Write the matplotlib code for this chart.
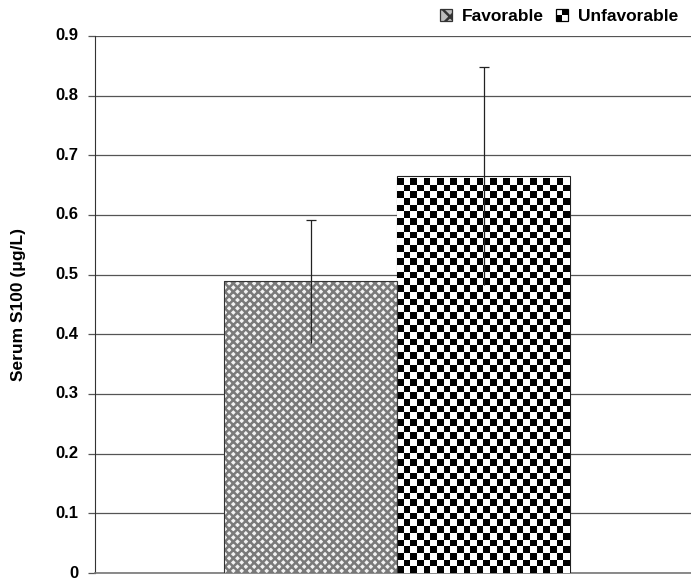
import numpy as np
import matplotlib
matplotlib.use('Agg')
import matplotlib.pyplot as plt
from matplotlib.patches import Rectangle, Patch
from matplotlib.legend_handler import HandlerBase

groups = ['Favorable', 'Unfavorable']
means = [0.49, 0.665]
err_low = [0.105, 0.183]
err_high = [0.102, 0.183]
yticks = [0, 0.1, 0.2, 0.3, 0.4, 0.5, 0.6, 0.7, 0.8, 0.9]

plt.rcParams['font.family'] = ['Liberation Sans', 'DejaVu Sans']
plt.rcParams['font.weight'] = 'bold'
plt.rcParams['hatch.linewidth'] = 1.8

fig = plt.figure(figsize=(6.91, 5.81), dpi=100)
ax = fig.add_axes([95 / 691, 8 / 581, 596 / 691, 537 / 581])

width = 0.29
xs = [-width / 2, width / 2]

# favorable: gray woven look via hatch
bars = ax.bar(xs[0], means[0], width=width, facecolor='#f2f2f2',
              edgecolor='#7a7a7a', hatch='xxxx', linewidth=0, zorder=3)
ax.bar(xs[0], means[0], width=width, facecolor='none', edgecolor='#333333',
       linewidth=0.8, zorder=4)

# unfavorable: checkerboard clipped to bar
bars2 = ax.bar(xs[1], means[1], width=width, facecolor='white',
               edgecolor='#222222', linewidth=0.8, zorder=3)
unf_bar = bars2[0]
sq = 0.0112
nx = 26
ny = int(round(means[1] / sq))
checks = (np.indices((ny, nx)).sum(axis=0) % 2).astype(float)
x0 = unf_bar.get_x()
im = ax.imshow(checks, cmap='gray', vmin=0, vmax=1, interpolation='nearest',
               extent=[x0, x0 + width, 0, ny * sq], origin='lower',
               aspect='auto', zorder=3.5)
im.set_clip_path(unf_bar)

for i in range(2):
    eb = ax.errorbar(xs[i], means[i], yerr=[[err_low[i]], [err_high[i]]],
                     fmt='none', ecolor='#222222', elinewidth=0.9,
                     capsize=3.3, capthick=0.9, zorder=5)
    eb[1][0].set_visible(False)

ax.set_xlim(-0.507, 0.493)
ax.set_ylim(0, 0.9)
ax.set_yticks(yticks)
ax.set_yticklabels(['0'] + ['%.1f' % v for v in yticks[1:]], fontsize=12,
                   fontweight='bold')
for lbl in ax.get_yticklabels():
    lbl.set_va('center')
ax.set_xticks([])
ax.yaxis.grid(True, color='#555555', linewidth=0.9, zorder=0)
ax.set_axisbelow(True)
for s in ['top', 'right']:
    ax.spines[s].set_visible(False)
ax.spines['left'].set_color('#333333')
ax.spines['bottom'].set_color('#777777')
ax.spines['bottom'].set_linewidth(1.2)
ax.tick_params(axis='y', length=5, width=0.9, color='#555555', pad=7)
ax.set_ylabel('Serum S100 (\u03bcg/L)', fontsize=12.5, fontweight='bold',
              labelpad=21)


class CheckHandler(HandlerBase):
    def create_artists(self, legend, orig_handle, xdescent, ydescent,
                       width, height, fontsize, trans):
        s = min(width, height)
        x0 = -xdescent + (width - s) / 2
        y0 = -ydescent + (height - s) / 2
        arts = [Rectangle((x0, y0), s, s, facecolor='white',
                          edgecolor='black', lw=0.9, transform=trans)]
        h = s / 2
        arts.append(Rectangle((x0 + h, y0 + h), h, h, facecolor='black',
                              edgecolor='none', transform=trans))
        arts.append(Rectangle((x0, y0), h, h, facecolor='black',
                              edgecolor='none', transform=trans))
        return arts


class WeaveHandler(HandlerBase):
    def create_artists(self, legend, orig_handle, xdescent, ydescent,
                       width, height, fontsize, trans):
        s = min(width, height)
        x0 = -xdescent + (width - s) / 2
        y0 = -ydescent + (height - s) / 2
        r = Rectangle((x0, y0), s, s, facecolor='#bdbdbd', edgecolor='#333333',
                      hatch='xx', lw=0.9, transform=trans)
        return [r]


h_fav = Patch(label=groups[0])
h_unf = Rectangle((0, 0), 1, 1, label=groups[1])
fig.legend([h_fav, h_unf], groups, loc='upper right',
           bbox_to_anchor=(1.004, 1.012), ncol=2, frameon=False,
           fontsize=12.5, handlelength=0.7, handleheight=0.7,
           handletextpad=0.55, columnspacing=0.7,
           handler_map={h_fav: WeaveHandler(), h_unf: CheckHandler()})

fig.savefig('out.png', dpi=100)
